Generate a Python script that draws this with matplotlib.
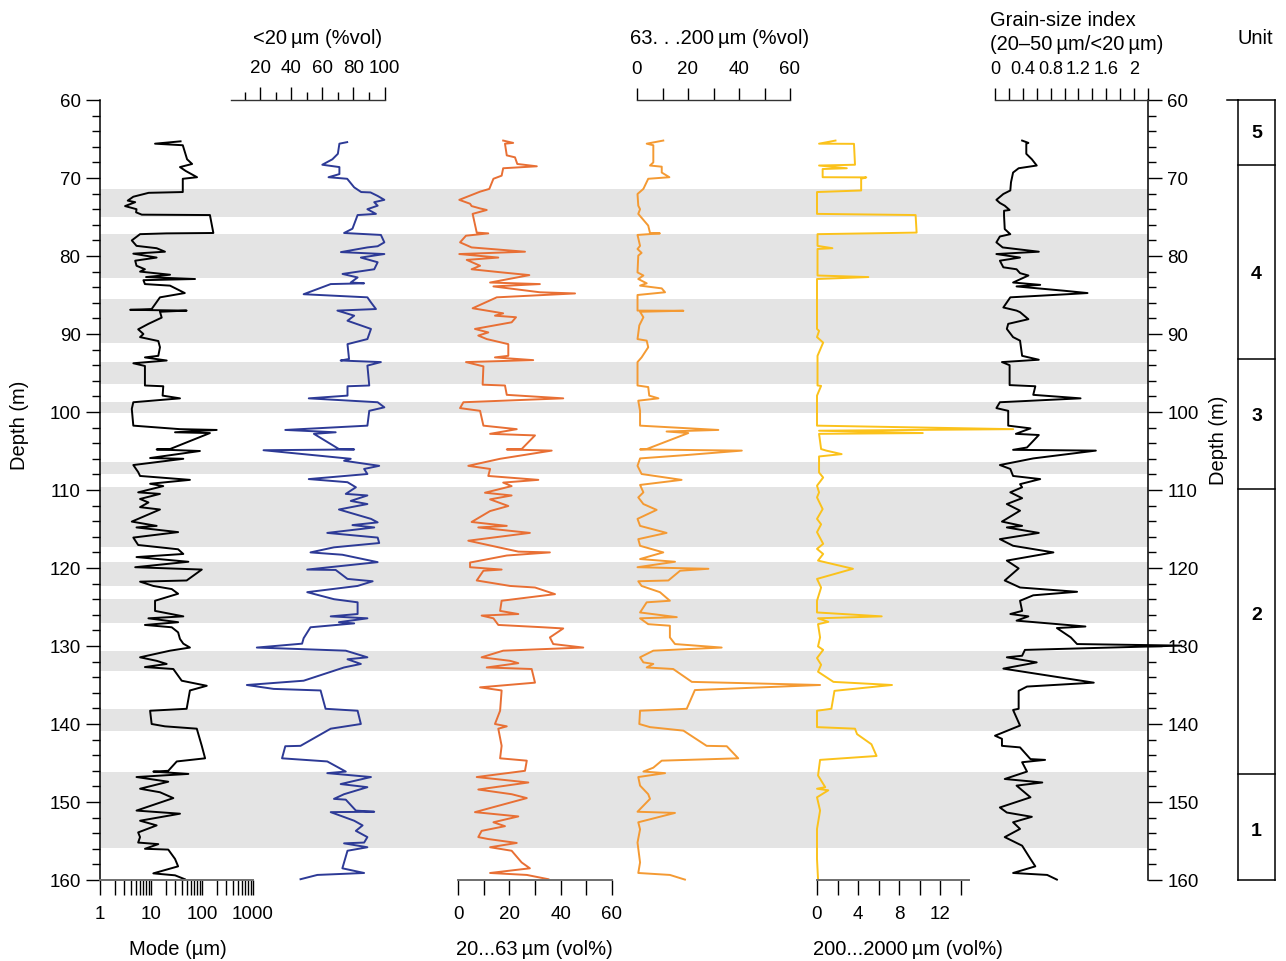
import matplotlib
matplotlib.use("Agg")
import matplotlib.pyplot as plt
from matplotlib.ticker import FixedLocator, FixedFormatter, NullFormatter

plt.rcParams['font.family'] = ['Liberation Sans', 'DejaVu Sans']

# ---------------------------------------------------------------- data
# shaded intervals (top, base) in m
band_top = [71.4, 77.2, 85.5, 93.55, 98.7, 106.4, 109.6, 119.2, 124.0, 130.6, 138.1, 146.15]
band_base = [75.0, 82.8, 91.1, 96.35, 100.1, 107.9, 117.3, 122.3, 127.0, 133.2, 140.9, 155.9]

# lithological units
unit_bounds = [60, 68.3, 93.2, 109.9, 146.4, 160]
unit_names = ['5', '4', '3', '2', '1']
unit_label_depth = [64.2, 82.2, 100.5, 125.9, 153.7]

# modal grain size (um)
mode_depth = [65.3, 65.6, 65.8, 67.6, 68.2, 68.6, 69.1, 69.9, 70.1, 71.8, 71.9, 72.4, 72.9, 73.1, 73.6,
              74.0, 74.4, 74.7, 74.75, 77.05, 77.1, 77.2, 78.0, 78.7, 79.0, 79.45, 79.7, 80.2, 80.6,
              81.25, 81.7, 82.0, 82.4, 82.7, 82.95, 83.1, 83.6, 83.8, 84.45, 84.75, 85.3, 86.8, 86.9,
              87.0, 87.15, 87.9, 88.7, 89.4, 90.0, 90.4, 90.9, 91.7, 92.8, 93.0, 93.4, 93.75, 94.1,
              96.6, 96.7, 97.9, 98.25, 98.75, 99.6, 101.75, 102.2, 102.3, 102.6, 102.7, 104.75,
              104.8, 105.0, 105.9, 106.0, 106.8, 107.7, 108.2, 108.7, 109.2, 109.5, 110.3, 110.5,
              111.15, 111.6, 112.2, 112.5, 114.05, 114.6, 114.8, 115.4, 116.1, 117.05, 117.6, 118.2,
              118.6, 119.2, 119.9, 120.2, 121.6, 121.75, 122.3, 122.7, 123.3, 124.2, 125.5, 126.2,
              126.45, 126.95, 127.3, 127.6, 128.25, 129.1, 129.7, 130.2, 130.6, 131.45, 131.9, 132.3,
              132.7, 132.95, 134.45, 135.1, 135.7, 138.05, 138.3, 140.0, 140.3, 140.6, 142.8, 144.4,
              144.8, 146.0, 146.1, 146.4, 146.8, 147.4, 148.3, 148.75, 149.5, 151.1, 151.5, 152.4,
              153.0, 153.9, 154.5, 155.2, 155.4, 156.0, 156.1, 157.3, 158.25, 159.15, 159.4, 159.9]
mode_um = [38, 12, 42, 51, 64, 37, 48, 80, 42, 42, 9, 4.5, 3.5, 4.9, 3.1,
           5.2, 5.1, 6.6, 143, 167, 20, 6.1, 4.2, 5.2, 12.9, 18.8, 4.5, 12.9, 4.9,
           5.2, 7.6, 6.1, 23.6, 8, 73, 7.1, 7.6, 23.6, 37, 46, 15, 10.3, 3.9,
           50, 15, 16.2, 8.9, 5.6, 7.1, 6.1, 13.9, 15, 13.9, 7.6, 20.3, 4.5, 7.6,
           7.6, 17.4, 16.9, 37, 4.5, 4.2, 4.5, 37, 194, 29.6, 143, 23.6,
           12.9, 91, 9.6, 43, 4.5, 5.6, 6.1, 58, 9.6, 17.4, 5.6, 15,
           6.1, 8.9, 6.1, 15, 4.2, 12.9, 5.2, 34, 4.5, 5.6, 34, 43,
           5.2, 54, 4.9, 99, 50, 6.1, 11.1, 25.5, 34, 12, 12, 43,
           8.9, 34, 7.6, 25.5, 34, 37, 43, 58, 23.6, 6.1, 12.9, 20.3,
           7.6, 27.4, 40, 124, 58, 50, 9.6, 10.3, 18.8, 79, 99, 115,
           32, 21.8, 11.1, 54, 5.2, 21.8, 6.1, 15, 27.4, 5.2, 37, 6.1,
           12.9, 5.6, 6.1, 5.6, 13.9, 7.6, 21.8, 29.6, 34, 11.1, 29.6, 46]

# fraction < 20 um (vol%)
fine_depth = [65.4, 65.6, 66.9, 67.6, 68.3, 68.6, 69.5, 69.9, 70.1, 71.2, 71.8, 71.85, 72.3, 72.8,
              73.1, 73.55, 74.0, 74.6, 74.75, 76.5, 77.05, 77.3, 78.25, 78.75, 78.9, 79.5, 79.75,
              80.2, 80.8, 81.7, 82.3, 82.75, 83.4, 83.5, 83.6, 84.9, 85.3, 85.95, 86.8, 87.0, 87.65,
              88.3, 89.35, 90.65, 91.3, 93.2, 93.4, 93.6, 94.05, 96.6, 96.7, 97.9, 98.25, 98.75,
              99.4, 99.85, 101.75, 102.3, 102.6, 102.8, 104.75, 104.8, 104.9, 105.4, 106.0, 106.25,
              106.9, 107.3, 107.95, 108.6, 109.0, 109.65, 110.5, 110.7, 111.4, 111.8, 112.5, 113.7,
              114.15, 114.5, 114.8, 115.5, 116.1, 116.8, 117.35, 118.0, 118.3, 119.25, 120.2, 120.25,
              121.4, 121.7, 122.3, 123.1, 124.0, 124.4, 125.9, 126.2, 126.45, 126.95, 127.1, 127.6,
              129.0, 129.7, 130.2, 130.6, 131.45, 131.7, 132.3, 132.75, 134.45, 135.0, 135.5, 135.7,
              138.05, 138.3, 140.0, 140.6, 142.8, 142.85, 144.4, 144.8, 146.1, 146.3, 146.8, 147.7,
              148.1, 148.55, 149.0, 149.6, 149.7, 151.1, 151.25, 151.3, 152.4, 153.0, 153.7, 154.5,
              155.2, 155.3, 155.8, 156.25, 157.75, 158.5, 159.1, 159.35, 159.9]
fine_pct = [76, 71, 70, 66.5, 60, 71, 71, 64, 76, 80.5, 85, 91, 95.6, 99.9,
            93.4, 95.6, 89, 94.5, 82.7, 79.4, 74, 97.7, 99.9, 95.6, 89, 72, 99.9,
            84.8, 95.6, 93.4, 73, 82.7, 78.3, 86.9, 65.4, 48, 89, 91.3, 94.5, 69.7, 80.5,
            76.2, 91.3, 89, 76.2, 77.2, 71.8, 97.7, 89, 90.2, 76.2, 76.2, 51.3, 95.6,
            99.9, 90.2, 89, 36.2, 68.6, 54.6, 70.7, 80.5, 22.2, 48, 78.3, 74,
            96.6, 86.9, 89, 51.3, 76.2, 81.6, 75.1, 89, 78.3, 89, 70.7, 91.3,
            95.6, 79.4, 93.4, 63.2, 95.6, 96.6, 67.5, 52.4, 72.9, 95.6, 50.3, 68.6,
            76.2, 92.4, 82.7, 50.3, 67.5, 82.7, 82.7, 65.4, 89, 70.7, 80.5, 52.4,
            48, 47, 17.9, 75.1, 89, 76.2, 84.8, 74, 48, 11.5, 28.7, 58.9,
            62.1, 82.7, 84.8, 65.4, 46, 36.2, 34.1, 63.2, 75.1, 63.2, 91.3, 71.8,
            89, 81.6, 74, 67.5, 75.1, 81.6, 93.4, 65.4, 80.5, 85.9, 81.6, 89,
            86.9, 74, 89, 76.2, 74, 72.9, 86.9, 56.8, 46]

# fraction 20-63 um (vol%)
silt_depth = [65.2, 65.5, 65.6, 67.1, 67.35, 68.2, 68.5, 68.75, 69.7, 70.1, 71.4, 71.75, 72.8, 73.3,
              73.6, 73.9, 74.1, 74.6, 77.0, 77.1, 77.4, 78.25, 78.9, 79.45, 79.75, 80.2, 80.5, 81.25,
              81.7, 82.1, 82.45, 83.4, 83.6, 83.9, 84.65, 84.8, 85.3, 86.7, 87.0, 87.35, 87.65, 87.85,
              88.5, 89.35, 89.8, 90.2, 90.65, 91.3, 92.8, 93.0, 93.35, 93.6, 94.15, 96.5, 96.6, 97.8,
              98.25, 98.75, 99.5, 99.85, 101.75, 102.2, 102.8, 103.0, 104.75, 104.8, 104.95, 106.0,
              106.9, 107.3, 108.2, 108.7, 109.05, 109.5, 110.35, 110.7, 111.2, 112.05, 112.7, 114.1,
              114.6, 114.8, 115.5, 116.5, 117.9, 118.0, 118.4, 119.3, 119.9, 120.2, 120.35, 121.6,
              122.3, 122.5, 123.35, 124.2, 125.5, 125.9, 126.1, 126.45, 127.3, 127.6, 127.75, 128.9,
              129.75, 130.2, 130.6, 131.45, 131.9, 132.2, 132.75, 132.95, 134.7, 135.3, 135.7, 138.3,
              140.0, 140.3, 140.6, 142.8, 144.4, 144.7, 146.0, 146.2, 146.8, 147.5, 148.4, 149.0,
              149.5, 151.3, 151.85, 152.6, 153.1, 153.7, 154.5, 154.75, 155.25, 155.8, 156.25, 157.75,
              158.5, 159.1, 159.35, 159.9]
silt_pct = [17.6, 21.5, 18.3, 19.0, 22.2, 23.1, 30.7, 17.6, 17.0, 13.8, 12.2, 8.6, 0.5, 4.7,
            5.3, 8.6, 11.2, 5.7, 7.3, 11.8, 3.1, 0.8, 5.3, 26.1, 0.5, 15.7, 3.4, 8.6,
            5.3, 17.0, 27.8, 12.5, 31.9, 13.8, 31.9, 45.6, 15.1, 5.7, 11.2, 17.6, 14.4, 22.6,
            20.9, 6.6, 11.8, 7.9, 11.2, 19.6, 19.6, 14.4, 29.3, 3.1, 9.9, 9.6, 18.3, 19.0,
            41.0, 2.1, 0.8, 8.6, 9.9, 22.9, 12.5, 30.0, 24.8, 19.0, 36.5, 16.4,
            4.0, 12.5, 11.8, 31.3, 17.6, 20.9, 10.5, 20.9, 12.5, 19.6, 12.5, 5.3,
            19.0, 7.9, 28.0, 4.0, 23.5, 35.8, 19.0, 4.7, 4.7, 17.0, 9.9, 7.3,
            20.3, 30.0, 37.8, 17.0, 16.4, 23.5, 9.2, 13.8, 15.7, 33.2, 41.0, 35.8,
            37.1, 48.8, 17.6, 9.2, 20.3, 23.5, 11.2, 28.7, 30.0, 8.6, 17.0, 16.4,
            14.4, 19.0, 15.7, 17.0, 16.4, 26.8, 26.1, 21.5, 7.3, 27.4, 7.9, 20.9,
            26.8, 6.6, 23.5, 13.8, 18.3, 9.2, 7.9, 11.8, 22.9, 12.5, 20.9, 24.8,
            28.0, 12.5, 26.8, 35.2]

# fraction 63-200 um (vol%)
fsand_depth = [65.2, 65.6, 65.8, 68.0, 68.4, 68.55, 69.3, 69.9, 70.1, 71.4, 72.05, 73.55, 74.0, 74.6,
               76.1, 77.05, 77.1, 77.3, 78.7, 79.1, 79.6, 79.95, 82.1, 82.5, 82.95, 83.5, 83.8, 84.15,
               84.65, 85.0, 87.0, 87.02, 87.15, 87.85, 88.9, 90.65, 90.85, 91.7, 93.0, 93.6, 96.6,
               96.8, 97.9, 98.25, 98.55, 99.85, 101.75, 102.3, 102.5, 102.7, 104.75, 104.8, 104.95,
               105.5, 105.95, 106.9, 107.95, 108.7, 109.35, 110.3, 110.95, 111.8, 112.55, 113.7,
               114.6, 115.5, 116.3, 117.15, 118.0, 118.85, 119.2, 119.9, 120.1, 120.35, 121.6, 121.7,
               122.3, 123.1, 124.2, 124.4, 125.7, 126.3, 126.45, 127.2, 127.4, 128.9, 129.75, 130.2,
               130.6, 131.45, 132.1, 132.3, 132.75, 132.95, 134.6, 135.0, 135.65, 138.05, 138.3,
               140.0, 140.4, 140.85, 142.8, 142.85, 144.4, 144.7, 145.6, 146.1, 146.3, 146.8, 147.9,
               149.0, 149.6, 151.25, 151.4, 152.6, 153.5, 155.2, 157.75, 159.1, 159.35, 159.95]
fsand_pct = [10.3, 3.8, 6.4, 6.4, 5.1, 9.7, 9.7, 12.7, 4.4, 2.5, 0.2, 0.5, 1.2, 0.5,
             4.4, 5.1, 9.0, 0.2, 1.2, 0.2, 1.8, 0.5, 0.2, 2.5, 0.5, 3.8, 1.2, 9.7,
             11.0, 0.2, 0.2, 18.2, 1.2, 2.5, 0.9, 0.2, 3.8, 4.4, 1.8, 0.2, 0.2,
             4.4, 4.8, 8.4, 0.5, 1.2, 1.2, 31.9, 11.6, 20.1, 3.8, 1.2, 41.1,
             20.1, 1.2, 0.2, 1.8, 17.5, 1.2, 2.5, 0.5, 2.5, 7.7, 0.2,
             1.2, 11.6, 0.5, 1.2, 10.3, 1.2, 14.9, 0.2, 28.0, 16.9, 12.3, 0.5,
             1.8, 9.0, 12.9, 3.8, 1.2, 15.6, 1.2, 4.4, 12.9, 12.9, 14.9, 33.2,
             6.4, 1.2, 2.5, 6.4, 3.8, 14.2, 21.5, 71.8, 22.7, 19.5, 1.2,
             0.9, 5.1, 18.2, 27.3, 35.2, 39.7, 9.7, 6.4, 2.5, 11.0, 0.5, 1.2,
             4.4, 5.1, 0.2, 14.9, 0.5, 1.2, 0.2, 1.2, 0.5, 12.9, 18.8]

# fraction 200-2000 um (vol%)
csand_depth = [65.2, 65.6, 65.62, 68.3, 68.4, 68.75, 68.85, 69.9, 69.92, 70.1, 71.6, 71.8, 74.6,
               74.75, 77.0, 77.2, 78.7, 79.0, 79.1, 82.5, 82.7, 82.95, 89.35, 89.6, 90.4, 91.1, 92.8,
               96.6, 96.65, 97.9, 101.75, 102.2, 102.4, 102.7, 102.8, 104.75, 104.95, 105.4, 105.7,
               107.75, 108.4, 109.45, 110.3, 110.95, 112.45, 113.7, 114.4, 115.4, 116.9, 117.55,
               118.2, 119.05, 120.1, 121.4, 122.5, 124.2, 125.7, 126.2, 126.45, 126.9, 127.2, 128.9,
               130.05, 130.5, 131.55, 132.4, 133.3, 134.6, 135.0, 135.75, 138.05, 138.3, 140.4,
               140.6, 141.3, 142.6, 144.1, 144.6, 146.6, 148.1, 148.3, 148.5, 149.4, 151.1, 153.45,
               157.3, 159.9]
csand_pct = [1.8, 0.2, 3.6, 3.7, 0.2, 2.9, 0.55, 0.55, 4.8, 4.3, 4.3, 0.0, 0.0,
             9.6, 9.7, 0.05, 0.05, 1.5, 0.05, 0.05, 5.0, 0.0, 0.0, 0.2, 0.0, 0.6, 0.05,
             0.05, 0.4, 0.0, 0.0, 19.1, 0.2, 10.3, 0.2, 0.4, 0.9, 2.4, 0.2,
             0.2, 0.6, 0.0, 0.2, 0.0, 0.55, 0.0, 0.4, 0.0, 0.6, 0.0,
             0.6, 0.1, 3.5, 0.0, 0.4, 0.0, 0.0, 6.3, 0.1, 1.1, 0.1, 0.3,
             0.1, 0.6, 0.0, 0.4, 0.1, 1.6, 7.3, 1.7, 1.4, 0.0, 0.0,
             3.7, 3.9, 5.3, 5.8, 0.3, 0.1, 0.8, 0.0, 1.1, 0.0, 0.3, 0.0,
             0.0, 0.1]

# grain-size index (20-50 um / <20 um)
gsi_depth = [65.2, 65.5, 65.6, 66.9, 67.6, 68.4, 68.75, 69.3, 70.55, 71.6, 72.05, 72.8, 73.2, 73.55,
             74.1, 74.2, 74.8, 76.55, 77.2, 77.5, 78.25, 78.9, 79.45, 79.75, 80.2, 80.6, 81.45, 81.7,
             82.2, 82.5, 83.4, 83.7, 83.9, 84.45, 84.75, 84.9, 85.3, 86.6, 87.0, 87.2, 88.1, 88.7,
             89.35, 90.4, 90.85, 92.8, 93.3, 93.6, 94.0, 96.55, 96.7, 97.8, 98.25, 98.75, 99.5, 99.85,
             101.75, 102.1, 102.8, 102.95, 104.55, 104.85, 104.95, 105.95, 106.8, 107.3, 108.2,
             108.6, 109.25, 109.65, 110.3, 111.05, 111.8, 112.65, 114.05, 114.6, 114.8, 115.5, 116.3,
             117.15, 118.0, 119.05, 120.05, 121.6, 122.5, 123.05, 123.5, 124.2, 125.5, 125.9, 126.2,
             126.75, 127.5, 127.7, 128.9, 129.75, 129.95, 130.5, 131.25, 131.45, 132.1, 132.9, 134.7,
             135.2, 135.75, 138.05, 138.2, 140.2, 141.5, 141.9, 142.8, 143.0, 144.5, 144.6, 144.9,
             146.1, 147.05, 147.5, 147.9, 149.4, 150.7, 151.35, 151.9, 152.6, 153.45, 154.5, 155.6,
             157.3, 158.25, 159.1, 159.35, 159.95]
gsi_ratio = [0.39, 0.48, 0.45, 0.45, 0.53, 0.60, 0.34, 0.26, 0.23, 0.22, 0.12, 0.02, 0.07, 0.14,
             0.21, 0.13, 0.13, 0.14, 0.22, 0.07, 0.02, 0.11, 0.63, 0.02, 0.36, 0.07, 0.12, 0.31,
             0.36, 0.48, 0.26, 0.65, 0.31, 0.99, 1.33, 1.04, 0.22, 0.12, 0.31, 0.36, 0.48, 0.19,
             0.17, 0.26, 0.36, 0.39, 0.63, 0.10, 0.21, 0.21, 0.58, 0.55, 1.23, 0.07, 0.02, 0.19,
             0.19, 0.51, 0.30, 0.63, 0.46, 0.26, 1.45, 0.55, 0.07, 0.22, 0.26,
             0.65, 0.36, 0.39, 0.22, 0.39, 0.17, 0.36, 0.10, 0.39, 0.17, 0.63, 0.07,
             0.26, 0.84, 0.17, 0.34, 0.14, 0.36, 1.18, 0.55, 0.36, 0.39, 0.22, 0.48,
             0.31, 1.30, 0.89, 1.09, 1.18, 2.68, 0.43, 0.39, 0.17, 0.60, 0.12, 1.42,
             0.46, 0.34, 0.34, 0.26, 0.36, 0.0, 0.10, 0.10, 0.36, 0.51, 0.72, 0.39,
             0.46, 0.14, 0.68, 0.31, 0.51, 0.07, 0.17, 0.53, 0.26, 0.36, 0.14, 0.39,
             0.51, 0.58, 0.26, 0.75, 0.89]

# ---------------------------------------------------------------- layout
W, H = 1286, 962
fig = plt.figure(figsize=(W / 100, H / 100), dpi=100)
TOP, BOT = 101, 881
DMIN, DMAX = 60, 160


def fx(px):
    return px / W


def fy(py):
    return 1 - py / H


def panel(x0, x1):
    ax = fig.add_axes([fx(x0), fy(BOT), (x1 - x0) / W, (BOT - TOP) / H])
    ax.set_ylim(DMAX, DMIN)
    ax.set_facecolor('none')
    return ax


TICK_FS = 13.5
TITLE_FS = 14.5

# depth frame with shaded intervals
ax0 = panel(100, 1148)
ax0.set_xlim(0, 1)
for t, b in zip(band_top, band_base):
    ax0.axhspan(t, b, color='#e4e4e4', lw=0, zorder=0)
for s in ['top', 'bottom']:
    ax0.spines[s].set_visible(False)
for s in ['left', 'right']:
    ax0.spines[s].set_linewidth(1.1)
ax0.set_xticks([])
ax0.yaxis.set_major_locator(FixedLocator(list(range(60, 161, 10))))
ax0.yaxis.set_minor_locator(FixedLocator(list(range(60, 161, 2))))
ax0.tick_params(axis='y', which='both', left=True, right=True, labelleft=True,
                labelright=True, direction='out', labelsize=TICK_FS, width=1.0, pad=4)
ax0.tick_params(axis='y', which='major', length=10)
ax0.tick_params(axis='y', which='minor', length=6)


def style_axis(ax, side, color):
    for s in ['top', 'bottom', 'left', 'right']:
        ax.spines[s].set_visible(s == side)
    ax.spines[side].set_color(color)
    ax.spines[side].set_linewidth(1.4 if side == 'bottom' else 1.0)
    ax.set_yticks([])
    ax.xaxis.set_ticks_position(side)
    ax.xaxis.set_label_position(side)
    ax.tick_params(axis='x', which='both', direction='out', labelsize=TICK_FS,
                   width=1.0, pad=(7.5 if side == 'top' else 7))


LINE_W = 1.4

# mode
ax_mode = panel(100, 253)
ax_mode.set_xscale('log')
ax_mode.set_xlim(1, 1000)
style_axis(ax_mode, 'bottom', '#6e6e6e')
ax_mode.xaxis.set_major_locator(FixedLocator([1, 10, 100, 1000]))
ax_mode.xaxis.set_major_formatter(FixedFormatter(['1', '10', '100', '1000']))
ax_mode.xaxis.set_minor_locator(FixedLocator([m * 10 ** e for e in range(3) for m in range(2, 10)]))
ax_mode.xaxis.set_minor_formatter(NullFormatter())
ax_mode.tick_params(axis='x', which='both', length=11)
ax_mode.plot(mode_um, mode_depth, color='black', lw=LINE_W, clip_on=False)

# < 20 um
ax_fine = panel(229, 384.5)
ax_fine.set_xlim(0, 100)
style_axis(ax_fine, 'top', '#333333')
ax_fine.spines['top'].set_bounds(1.5, 100)
ax_fine.xaxis.set_major_locator(FixedLocator([20, 40, 60, 80, 100]))
ax_fine.xaxis.set_minor_locator(FixedLocator([10, 30, 50, 70, 90]))
ax_fine.tick_params(axis='x', which='major', length=9.5)
ax_fine.tick_params(axis='x', which='minor', length=5.5)
ax_fine.plot(fine_pct, fine_depth, color='#2d3a96', lw=LINE_W, clip_on=False)

# 20-63 um
ax_silt = panel(458, 612)
ax_silt.set_xlim(0, 60)
style_axis(ax_silt, 'bottom', '#6e6e6e')
ax_silt.xaxis.set_major_locator(FixedLocator([0, 20, 40, 60]))
ax_silt.xaxis.set_minor_locator(FixedLocator([10, 30, 50]))
ax_silt.tick_params(axis='x', which='both', length=11)
ax_silt.plot(silt_pct, silt_depth, color='#e86f34', lw=LINE_W, clip_on=False)

# 63-200 um
ax_fsand = panel(637, 790)
ax_fsand.set_xlim(0, 60)
style_axis(ax_fsand, 'top', '#333333')
ax_fsand.xaxis.set_major_locator(FixedLocator([0, 20, 40, 60]))
ax_fsand.xaxis.set_minor_locator(FixedLocator([10, 30, 50]))
ax_fsand.tick_params(axis='x', which='both', length=9)
ax_fsand.plot(fsand_pct, fsand_depth, color='#f49a33', lw=LINE_W, clip_on=False)

# 200-2000 um
ax_csand = panel(817, 969)
ax_csand.set_xlim(0, 14.8)
style_axis(ax_csand, 'bottom', '#6e6e6e')
ax_csand.xaxis.set_major_locator(FixedLocator([0, 4, 8, 12]))
ax_csand.xaxis.set_minor_locator(FixedLocator([2, 6, 10, 14]))
ax_csand.tick_params(axis='x', which='both', length=11)
ax_csand.plot(csand_pct, csand_depth, color='#fbc21b', lw=LINE_W, clip_on=False)

# grain-size index
ax_gsi = panel(995, 1148)
ax_gsi.set_xlim(0, 2.2)
style_axis(ax_gsi, 'top', '#333333')
ax_gsi.xaxis.set_major_locator(FixedLocator([0, 0.4, 0.8, 1.2, 1.6, 2.0]))
ax_gsi.xaxis.set_major_formatter(FixedFormatter(['0', '0.4', '0.8', '1.2', '1.6', '2']))
ax_gsi.xaxis.set_minor_locator(FixedLocator([0.2, 0.6, 1.0, 1.4, 1.8, 2.2]))
ax_gsi.tick_params(axis='x', which='both', length=9, labelsize=13)
ax_gsi.plot(gsi_ratio, gsi_depth, color='black', lw=LINE_W, clip_on=False)

# unit column
ax_unit = panel(1238, 1275)
ax_unit.set_xlim(0, 1)
ax_unit.axis('off')
ax_unit.plot([0, 0], [DMIN, DMAX], color='black', lw=1.1, clip_on=False)
ax_unit.plot([1, 1], [DMIN, DMAX], color='black', lw=1.1, clip_on=False)
for b in unit_bounds:
    ax_unit.plot([0, 1], [b, b], color='black', lw=1.1, clip_on=False)
ax_unit.plot([-0.3, 0], [DMIN, DMIN], color='black', lw=1.1, clip_on=False)
for name, d in zip(unit_names, unit_label_depth):
    ax_unit.text(0.5, d, name, ha='center', va='center', fontsize=14, fontweight='bold')

# titles
fig.text(fx(318), fy(39), '<20\u2009µm (%vol)', ha='center', va='center', fontsize=TITLE_FS)
fig.text(fx(720), fy(39), '63. . .200\u2009µm (%vol)', ha='center', va='center', fontsize=TITLE_FS)
fig.text(fx(990), fy(20), 'Grain-size index', ha='left', va='center', fontsize=TITLE_FS)
fig.text(fx(990), fy(44), '(20\u201350\u2009µm/<20\u2009µm)', ha='left', va='center', fontsize=TITLE_FS)
fig.text(fx(1255), fy(38), 'Unit', ha='center', va='center', fontsize=TITLE_FS)
fig.text(fx(20), fy(425), 'Depth (m)', ha='center', va='center', rotation=90, fontsize=TITLE_FS)
fig.text(fx(1218), fy(440), 'Depth (m)', ha='center', va='center', rotation=90, fontsize=TITLE_FS)
fig.text(fx(178), fy(950), 'Mode (µm)', ha='center', va='center', fontsize=TITLE_FS)
fig.text(fx(534), fy(950), '20...63\u2009µm (vol%)', ha='center', va='center', fontsize=TITLE_FS)
fig.text(fx(908), fy(950), '200...2000\u2009µm (vol%)', ha='center', va='center', fontsize=TITLE_FS)

fig.savefig('out.png', dpi=100)
